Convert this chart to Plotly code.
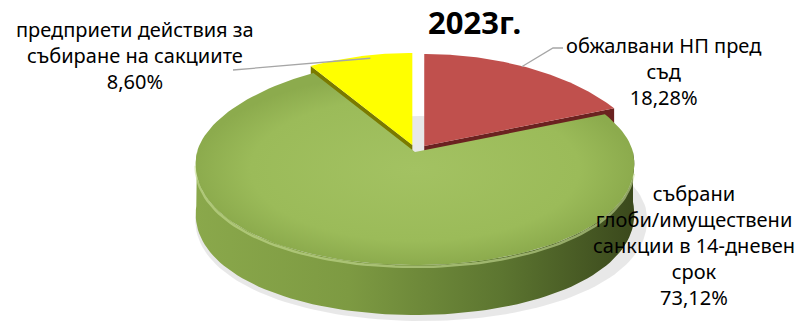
import numpy as np
import plotly.graph_objects as go

# ---- data -------------------------------------------------------------
title_text = "2023г."
categories = [
    "обжалвани НП пред<br>съд",
    "събрани<br>глоби/имуществени<br>санкции в 14-дневен<br>срок",
    "предприети действия за<br>събиране на сакциите",
]
shares = [18.28, 73.12, 8.60]          # percent
top_colors = ["#c0504d", "#9bbb59", "#ffff00"]
side_colors = ["#6b2220", "#5f7a2e", "#7a7a00"]

# ---- 3-D pie geometry (pixel space) ----------------------------------
W, H = 803, 321
cx, cy = 415, 152          # projected centre of the disc top
rx = 218                   # horizontal radius
ry_back, ry_front = 92, 113  # perspective: far half looks shallower
persp = 0.11               # far half also narrower
depth = 50                 # thickness of the disc
explode = [17, 0, 10]      # how far each slice is pulled out
lift = [0, 0, 3]           # extra vertical lift of a pulled-out slice

def rim(theta_deg, dx=0.0, dy=0.0, down=0.0):
    t = np.radians(theta_deg)
    c = np.cos(t)
    ry = np.where(c > 0, ry_back, ry_front)
    return cx + dx + rx * np.sin(t) * (1 - persp * c), cy + dy - ry * c + down

bounds = np.concatenate([[0], np.cumsum(shares)]) * 3.6
offsets = []
for k in range(len(shares)):
    mid = np.radians((bounds[k] + bounds[k + 1]) / 2)
    offsets.append((explode[k] * np.sin(mid),
                    -explode[k] * np.cos(mid) * ry_back / rx - lift[k]))

fig = go.Figure()

def poly(xs, ys, color=None, grad=None, line=None):
    kw = dict(x=list(xs) + [xs[0]], y=list(ys) + [ys[0]], mode="lines",
              fill="toself", hoverinfo="skip", showlegend=False,
              line=line or dict(width=0))
    if grad is not None:
        kw["fillgradient"] = grad
    else:
        kw["fillcolor"] = color
    fig.add_trace(go.Scatter(**kw))

# soft shadow under the disc
ang = np.linspace(0, 360, 181)
sx, sy = rim(ang, 6, 6, depth)
sx = cx + (sx - cx) * 1.03
poly(sx, sy, color="rgba(0,0,0,0.09)")

# outer side walls (front half only)
for k in range(len(shares)):
    a0, a1 = max(bounds[k], 90), min(bounds[k + 1], 270)
    if a1 <= a0:
        continue
    dx, dy = offsets[k]
    a = np.linspace(a0, a1, 90)
    tx, ty = rim(a, dx, dy)
    bx, by = rim(a[::-1], dx, dy, depth)
    xs = np.concatenate([tx, bx]); ys = np.concatenate([ty, by])
    if k == 1:
        grad = dict(type="horizontal",
                    colorscale=[[0, "#8aa84b"], [0.35, "#7d9a42"],
                                [0.7, "#5c7530"], [1, "#3a481c"]])
        poly(xs, ys, grad=grad)
        hx, hy = rim(np.linspace(100, 264, 90), dx, dy, 2)
        fig.add_trace(go.Scatter(x=hx, y=hy, mode="lines", hoverinfo="skip",
                                 showlegend=False,
                                 line=dict(color="rgba(200,222,150,0.6)", width=2.5)))
    else:
        poly(xs, ys, color=side_colors[k])

# radial cut faces exposed by the exploded slices
for k, edge in [(0, bounds[1]), (2, bounds[2])]:
    dx, dy = offsets[k]
    px, py = cx + dx, cy + dy
    ex, ey = rim(edge, dx, dy)
    poly([px, ex, ex, px], [py, ey, ey + depth, py + depth], color=side_colors[k])

# top faces
for k in [1, 0, 2]:
    dx, dy = offsets[k]
    a = np.linspace(bounds[k], bounds[k + 1], 120)
    tx, ty = rim(a, dx, dy)
    xs = np.concatenate([[cx + dx], tx]); ys = np.concatenate([[cy + dy], ty])
    if k == 1:
        grad = dict(type="radial",
                    colorscale=[[0, "#a3c262"], [0.75, "#9bbb59"], [1, "#8cab4d"]])
        poly(xs, ys, grad=grad)
    else:
        poly(xs, ys, color=top_colors[k])

# ---- labels and leader lines -----------------------------------------
def pct(v):
    return f"{v:.2f}%".replace(".", ",")

label_pos = [(663, 71), (694, 245), (135, 55)]
font = dict(family="Noto Sans", size=20, color="#000000")
for k in range(len(shares)):
    fig.add_annotation(x=label_pos[k][0], y=label_pos[k][1], xref="x", yref="y",
                       text=f"{categories[k]}<br>{pct(shares[k])}",
                       showarrow=False, align="center", font=font,
                       xanchor="center", yanchor="middle")

lead = dict(color="#a6a6a6", width=1.3)
mx, my = rim((bounds[0] + bounds[1]) / 2, *offsets[0])
fig.add_trace(go.Scatter(x=[mx - 10, 553, 563], y=[my - 2, 48, 48], mode="lines",
                         line=lead, hoverinfo="skip", showlegend=False))
mx, my = rim((bounds[2] + bounds[3]) / 2, *offsets[2])
fig.add_trace(go.Scatter(x=[mx + 10, 233], y=[my + 2, 70], mode="lines",
                         line=lead, hoverinfo="skip", showlegend=False))

fig.add_annotation(x=474, y=22, xref="x", yref="y", text=f"<b>{title_text}</b>",
                   showarrow=False, font=dict(family="Noto Sans", size=31, color="#000"),
                   xanchor="center", yanchor="middle")

fig.update_layout(
    width=W, height=H, margin=dict(l=0, r=0, t=0, b=0),
    paper_bgcolor="white", plot_bgcolor="white",
    xaxis=dict(range=[0, W], visible=False, fixedrange=True),
    yaxis=dict(range=[H, 0], visible=False, fixedrange=True),
)
fig.write_html("out.html")
